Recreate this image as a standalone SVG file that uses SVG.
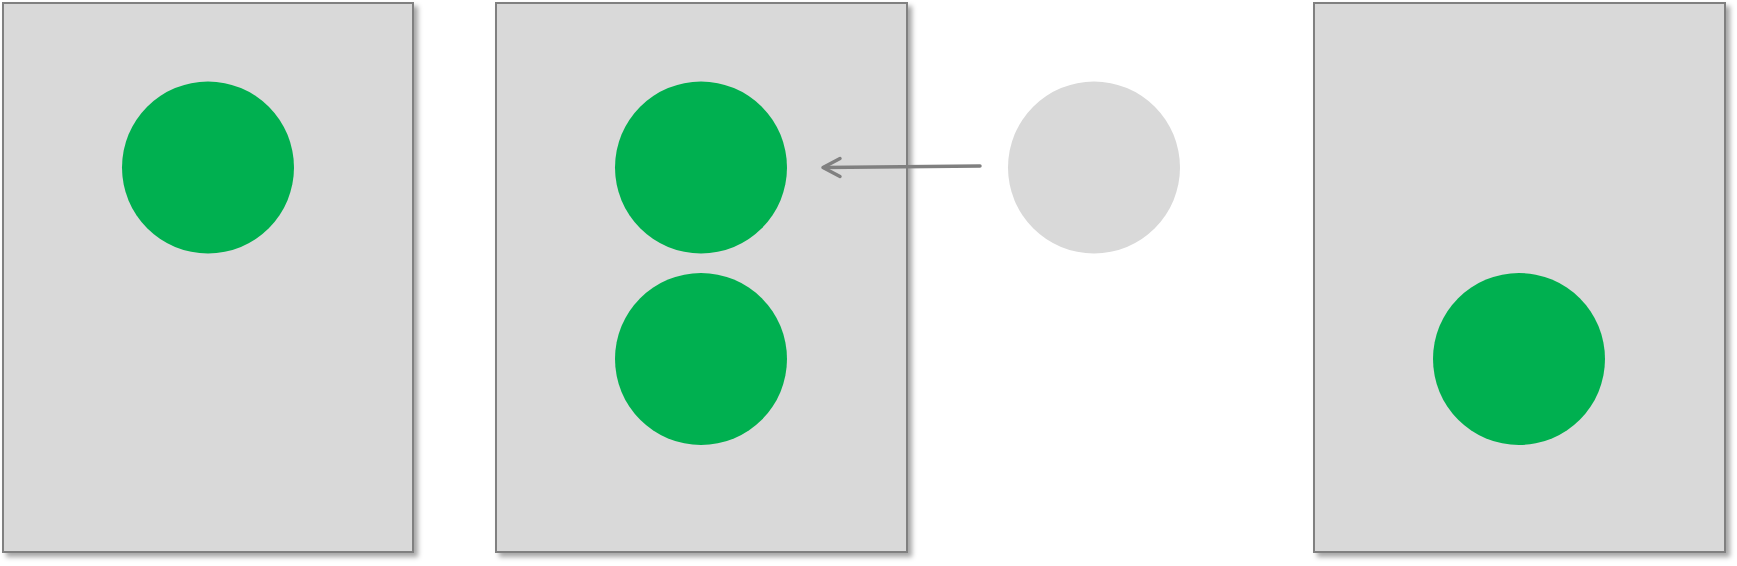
<svg xmlns="http://www.w3.org/2000/svg" width="1737" height="566" viewBox="0 0 1737 566">
<style>
.box{fill:#D9D9D9;stroke:#808080;stroke-width:2;filter:url(#sh)}
.g{fill:#00B050}
.c{fill:#D9D9D9}
.conn{stroke:#808080;stroke-width:3.5;fill:none;stroke-linecap:round;stroke-linejoin:round}
</style>
<defs>
<filter id="sh" x="-5%" y="-5%" width="115%" height="115%">
<feDropShadow dx="4" dy="4" stdDeviation="2.5" flood-color="#000" flood-opacity="0.35"/>
</filter>
</defs>
<rect width="1737" height="566" fill="#fff"/>
<g id="box1"><rect class="box" x="3" y="3" width="410" height="549"/></g>
<g id="box2"><rect class="box" x="496" y="3" width="411" height="549"/></g>
<g id="box3"><rect class="box" x="1314" y="3" width="411" height="549"/></g>
<g id="circle1"><circle class="g" cx="208" cy="167.5" r="86"/></g>
<g id="circle2"><circle class="g" cx="701" cy="167.5" r="86"/></g>
<g id="circle3"><circle class="g" cx="701" cy="359" r="86"/></g>
<g id="circle4"><circle class="c" cx="1094" cy="167.5" r="86"/></g>
<g id="circle5"><circle class="g" cx="1519" cy="359" r="86"/></g>
<g id="connectors">
<path class="conn" d="M980,166 L824,167.5"/>
<path class="conn" d="M840,158.5 L823,167.5 L840,176.5"/>
</g>
</svg>
